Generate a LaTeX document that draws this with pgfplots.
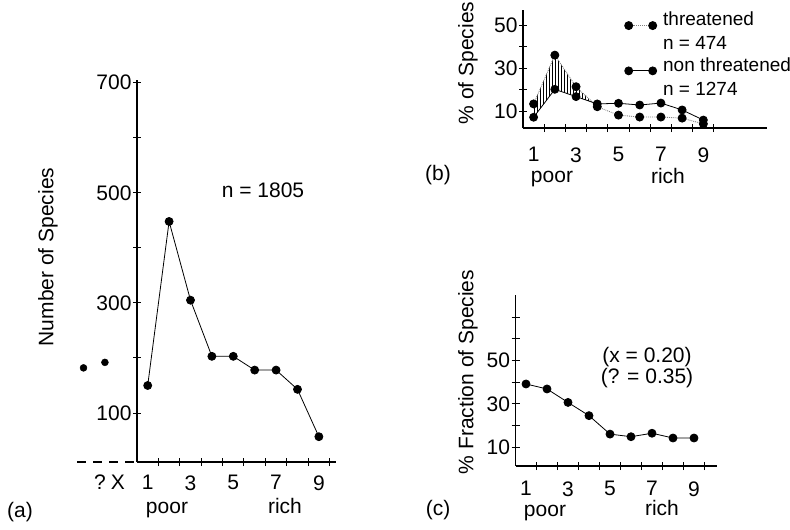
\documentclass[border=0pt]{standalone}
\usepackage{fontspec}
\setmainfont{Liberation Sans}
\usepackage{pgfplots}
\pgfplotsset{compat=1.18}
\usetikzlibrary{patterns}

\newcommand\fs{\fontsize{21}{25}\selectfont}
\newcommand\fl{\fontsize{19}{21}\selectfont}

\pgfplotsset{
  panel/.style={
    scale only axis, clip=false,
    axis x line=bottom, axis y line=left,
    axis line style={-, line width=1.3pt},
    tick align=center, major tick length=0pt, minor tick length=8pt,
    every tick/.style={black, line width=1pt},
    tick label style={font=\fs},
    /pgf/number format/assume math mode=true,
    xtick={1,3,5,7,9}, minor xtick={1.5,2.5,...,9.5},
    yticklabel style={xshift=-2pt},
  },
  dat/.style={black, line width=0.8pt, mark=*, mark size=4pt},
  thr/.style={gray, densely dotted, line width=0.9pt, mark=*, mark size=4pt,
    mark options={solid, fill=black, draw=black}},
}

\begin{document}
\begin{tikzpicture}
\path[use as bounding box] (0,0) rectangle (790pt,-530pt);

% (a) number of species
\begin{axis}[panel, at={(137pt,-462pt)}, anchor=south west,
  width=199pt, height=382pt,
  xmin=0.5, xmax=9.8, ymin=11, ymax=705,
  xticklabel style={yshift=-10pt},
  ytick={100,300,500,700}, minor ytick={100,200,...,700}]
  \addplot[dat] coordinates {
    (1,150) (2,448) (3,305) (4,203) (5,203) (6,178) (7,178) (8,143) (9,57)};
  \addplot[only marks, mark=*, mark size=3.5pt] coordinates {(-2,182) (-1,192)};
  \draw[line width=1.3pt, dash pattern=on 9pt off 7pt] (axis cs:-2.3,11) -- (axis cs:0.5,11);
\end{axis}

% (b) threatened vs non threatened
\begin{axis}[panel, at={(523pt,-128pt)}, anchor=south west,
  width=244pt, height=118pt,
  xmin=0.5, xmax=12, ymin=2.1, ymax=57,
  xticklabel style={yshift=-16pt},
  ytick={10,30,50}, minor ytick={10,20,...,50},
  legend style={at={(0.416,1.002)}, anchor=north west, draw=none, fill=none,
    font=\fl, cells={anchor=west, align=left}, row sep=2pt, inner sep=0pt},
  legend image code/.code={\draw[#1] plot coordinates {(0pt,6pt) (24pt,6pt)};
    \path (32pt,0pt) (0pt,-2pt);}]
  % hatched area where threatened > non threatened
  \addplot[forget plot, draw=none, pattern=vertical lines] coordinates {
    (1,13.3) (2,36) (3,21.3) (3.78,14.05) (3,16.7) (2,20.1) (1,7.1)} -- cycle;
  \addplot[thr] coordinates {
    (1,13.3) (2,36) (3,21.3) (4,12) (5,8.1) (6,7.2) (7,7.2) (8,6.7) (9,4)};
  \addlegendentry{threatened\\[3pt]n = 474}
  \addplot[dat] coordinates {
    (1,7.1) (2,20.1) (3,16.7) (4,13.3) (5,13.6) (6,12.8) (7,13.7) (8,10.5) (9,5.8)};
  \addlegendentry{non threatened\\[3pt]n = 1274}
\end{axis}

% (c) fraction of species
\begin{axis}[panel, at={(515.5pt,-466pt)}, anchor=south west,
  width=201.6pt, height=171pt,
  xmin=0.5, xmax=10.1, ymin=1.4, ymax=80.2,
  xticklabel style={yshift=-12pt},
  ytick={10,30,50}, minor ytick={10,20,...,70}]
  \addplot[dat] coordinates {
    (1,39.2) (2,36.9) (3,30.7) (4,24.6) (5,16.1) (6,14.9) (7,16.5) (8,14.3) (9,14.3)};
\end{axis}

\begin{scope}[every node/.style={font=\fs, inner sep=0pt}]
  \node at (20pt,-512pt) {(a)};
  \node at (167pt,-510pt) {poor};
  \node at (285pt,-506pt) {rich};
  \node at (100pt,-482pt) {?};
  \node at (118pt,-482pt) {X};
  \node at (263pt,-190pt) {n = 1805};
  \node[rotate=90] at (48pt,-257pt) {Number of Species};

  \node at (438pt,-175pt) {(b)};
  \node at (552pt,-179pt) {poor};
  \node at (668pt,-176pt) {rich};
  \node[rotate=90] at (468pt,-63pt) {\% of Species};

  \node at (438pt,-510pt) {(c)};
  \node at (545pt,-513pt) {poor};
  \node at (662pt,-508pt) {rich};
  \node[rotate=90] at (468pt,-372pt) {\% Fraction of Species};
  \node at (647pt,-357pt) {(x = 0.20)};
  \node at (647pt,-378pt) {(? = 0.35)};
\end{scope}
\end{tikzpicture}
\end{document}
